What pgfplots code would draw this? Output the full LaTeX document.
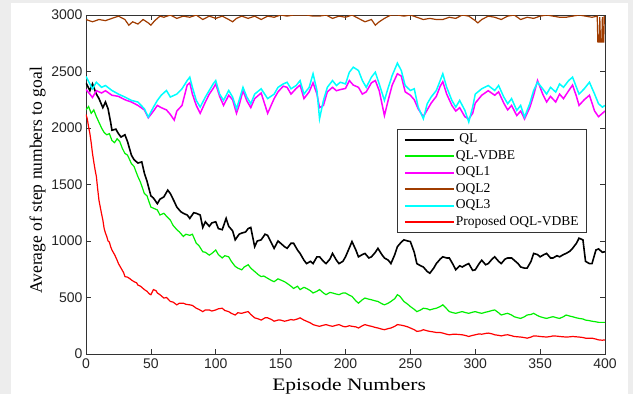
\documentclass[border=0pt]{standalone}
\usepackage{fontspec}
\setmainfont{Liberation Serif}
\setsansfont{Liberation Sans}
\usepackage{pgfplots}
\pgfplotsset{compat=1.18}
\definecolor{bgframe}{HTML}{EDEDED}
\definecolor{qlgreen}{HTML}{00F000}
\definecolor{oqlbrown}{HTML}{A03C00}
\definecolor{oqlcyan}{HTML}{00FFFF}
\definecolor{oqlmag}{HTML}{FF00FF}
\begin{document}
\begin{tikzpicture}
\fill[bgframe] (-86pt,-40pt) rectangle (547pt,354pt);
\fill[white] (-75pt,-40pt) rectangle (542pt,351pt);
\begin{axis}[
  at={(0,0)}, anchor=south west,
  width=519pt, height=339pt, scale only axis,
  xmin=0, xmax=400, ymin=0, ymax=3000,
  xtick={0,50,...,400}, ytick={0,500,...,3000},
  tick align=inside, major tick length=5pt,
  tick style={black!80, line width=0.6pt},
  axis line style={black!80, line width=0.8pt},
  /pgf/number format/assume math mode=true,
  /pgf/number format/1000 sep={},
  ticklabel style={font=\sffamily\fontsize{14}{14}\selectfont, text=black!85},
  xticklabel style={yshift=-1.5pt},
  xlabel={\scalebox{1.23}[1]{Episode Numbers}},
  xlabel style={font=\fontsize{17.5}{17.5}\selectfont, at={(axis description cs:0.507,0)}, anchor=base, yshift=-36pt},
  ylabel={Average of step numbers to goal},
  ylabel style={font=\fontsize{17.5}{17.5}\selectfont, at={(axis description cs:-0.0848,0.512)}, rotate=0, anchor=base},
  legend cell align=left,
  legend style={at={(rel axis cs:0.9653,0.6637)}, anchor=north east,
    draw=black!80, line width=0.8pt, inner xsep=7pt, inner ysep=2pt,
    font=\fontsize{13.5}{13.5}\selectfont, row sep=0pt,
    nodes={inner xsep=1pt, inner ysep=2.25pt, text height=9pt, text depth=3pt}},
]
% QL
\addplot[black, line width=1.6pt, forget plot] coordinates {
(0,2400)(3,2330)(5,2390)(8,2300)(10,2260)(13,2180)(15,2230)(17,2170)(19,2050)(20,1980)
(23,1990)(25,1950)(27,1920)(30,1940)(32,1880)(35,1760)(37,1720)(40,1690)(43,1700)(45,1600)
(47,1530)(50,1400)(52,1380)(55,1330)(57,1370)(60,1390)(63,1450)(65,1420)(68,1350)(70,1300)
(73,1260)(75,1245)(78,1230)(80,1200)(83,1250)(85,1245)(88,1230)(90,1120)(92,1170)(95,1130)
(97,1160)(100,1170)(102,1110)(105,1100)(108,1200)(110,1130)(113,1090)(115,1010)(118,1060)(120,1070)
(123,1080)(125,1110)(127,1120)(130,950)(132,1000)(135,1010)(138,1060)(140,1050)(143,980)(145,935)
(148,1000)(150,980)(153,950)(155,935)(158,980)(160,980)(163,920)(165,890)(168,830)(170,800)
(173,820)(175,800)(178,860)(180,860)(183,820)(185,800)(188,840)(190,890)(193,830)(195,800)
(198,820)(200,860)(203,940)(205,995)(208,920)(210,860)(213,880)(215,890)(218,850)(220,860)
(223,900)(225,935)(228,880)(230,850)(233,830)(235,800)(238,880)(240,950)(243,990)(245,1010)
(248,1000)(250,995)(253,900)(255,800)(258,780)(260,770)(263,730)(265,715)(268,760)(270,800)
(273,840)(275,860)(278,850)(280,850)(283,790)(285,745)(288,780)(290,770)(293,790)(295,800)
(298,740)(300,745)(303,800)(305,830)(308,790)(310,800)(313,840)(315,860)(318,820)(320,800)
(323,840)(325,850)(328,850)(330,830)(333,800)(335,770)(338,760)(340,760)(343,820)(345,890)
(348,880)(350,860)(353,880)(355,890)(358,850)(360,850)(363,870)(365,860)(368,880)(370,890)
(373,910)(375,935)(378,980)(380,1025)(383,1010)(385,820)(388,800)(390,800)(393,920)(395,930)
(398,900)(400,905)};
% QL-VDBE
\addplot[qlgreen, line width=1.2pt, forget plot] coordinates {
(0,2160)(2,2190)(4,2130)(6,2160)(8,2100)(10,2050)(12,2000)(14,1960)(16,1940)(18,1950)
(20,1890)(22,1870)(24,1905)(26,1880)(28,1820)(30,1775)(32,1760)(35,1685)(37,1660)(40,1570)
(42,1520)(45,1420)(47,1400)(50,1300)(52,1290)(55,1275)(57,1230)(60,1245)(62,1220)(65,1185)
(67,1140)(70,1100)(72,1080)(75,1040)(77,1060)(80,1050)(82,1060)(85,980)(87,960)(90,905)
(92,900)(95,875)(97,890)(100,920)(102,880)(105,850)(107,870)(110,860)(112,820)(115,775)
(117,760)(120,745)(122,770)(125,790)(127,760)(130,730)(133,700)(135,685)(137,690)(140,670)
(143,650)(145,640)(148,665)(150,655)(153,640)(155,625)(158,600)(160,580)(163,600)(165,570)
(168,590)(170,580)(173,560)(175,540)(178,555)(180,570)(183,540)(185,525)(188,545)(190,540)
(193,530)(195,525)(198,540)(200,540)(203,520)(205,510)(208,470)(210,450)(213,480)(215,495)
(218,485)(220,480)(223,470)(225,465)(228,445)(230,435)(233,450)(235,465)(238,490)(240,525)
(242,510)(245,465)(248,440)(250,420)(253,395)(255,375)(258,390)(260,405)(263,400)(265,390)
(268,400)(270,405)(273,420)(275,435)(278,400)(280,375)(283,365)(285,360)(288,370)(290,375)
(293,365)(295,360)(298,370)(300,375)(303,365)(305,360)(308,370)(310,375)(313,385)(315,390)
(318,365)(320,345)(323,355)(325,360)(328,345)(330,330)(333,320)(335,315)(338,330)(340,345)
(343,350)(345,360)(348,340)(350,330)(353,320)(355,315)(358,325)(360,330)(363,320)(365,315)
(368,330)(370,345)(373,335)(375,330)(378,320)(380,315)(383,310)(385,300)(388,295)(390,290)
(393,285)(395,280)(398,280)(400,280)};
% OQL1
\addplot[oqlmag, line width=1.5pt, forget plot] coordinates {
(0,2340)(3,2300)(5,2270)(8,2330)(12,2310)(15,2330)(20,2290)(25,2280)(30,2250)(35,2230)
(40,2200)(45,2160)(48,2090)(52,2150)(55,2200)(58,2180)(62,2160)(65,2120)(68,2070)(70,2150)
(74,2200)(78,2380)(80,2400)(82,2300)(85,2200)(88,2130)(92,2230)(95,2300)(98,2350)(100,2390)
(103,2280)(106,2200)(110,2290)(113,2250)(116,2130)(118,2200)(121,2330)(124,2240)(127,2180)(130,2260)
(135,2310)(140,2130)(145,2260)(148,2320)(152,2370)(155,2360)(158,2300)(162,2350)(165,2380)(168,2260)
(172,2320)(175,2400)(178,2300)(180,2180)(183,2200)(186,2320)(190,2360)(193,2330)(196,2340)(200,2350)
(203,2420)(206,2380)(210,2360)(213,2300)(216,2320)(220,2400)(223,2420)(226,2330)(230,2110)(233,2250)
(236,2380)(240,2480)(243,2460)(246,2320)(250,2290)(253,2250)(256,2170)(260,2100)(263,2160)(266,2220)
(270,2280)(273,2370)(275,2410)(278,2300)(282,2200)(285,2150)(288,2180)(292,2100)(295,2080)(298,2130)
(300,2220)(305,2290)(310,2330)(315,2290)(318,2320)(322,2220)(325,2160)(328,2200)(332,2110)(335,2150)
(338,2080)(342,2180)(345,2290)(348,2420)(352,2300)(355,2230)(358,2280)(362,2230)(365,2300)(368,2260)
(372,2330)(375,2380)(378,2280)(380,2200)(384,2250)(388,2290)(392,2150)(395,2100)(398,2130)(400,2150)};
% OQL2
\addplot[oqlbrown, line width=1.2pt, forget plot] coordinates {
(0,2960)(5,2940)(10,2960)(15,2950)(20,2970)(25,2990)(30,2960)(33,2910)(36,2940)(40,2920)
(44,2960)(48,2930)(50,2910)(53,2950)(57,2990)(60,2980)(65,3000)(70,2970)(75,2990)(80,2980)
(85,3000)(90,2960)(95,2990)(100,2970)(105,2990)(110,2960)(113,2940)(116,2970)(120,2990)(125,2970)
(130,2990)(135,2960)(140,2990)(145,2980)(150,3000)(155,2990)(160,3000)(165,3000)(170,3000)(175,2990)
(180,2990)(185,3000)(190,2970)(195,2990)(200,2980)(205,3000)(210,2970)(215,2940)(220,2960)(223,2910)
(226,2940)(230,2970)(235,3000)(240,3000)(245,2990)(250,3000)(255,2980)(260,2960)(265,2970)(270,2960)
(275,2960)(280,2980)(285,2970)(290,3000)(295,2990)(300,2950)(302,2930)(305,2960)(310,2990)(315,2980)
(320,2960)(325,2990)(330,3000)(335,2960)(340,2980)(345,2970)(350,2990)(355,3000)(360,2990)(365,2980)
(370,2980)(375,2990)(380,3000)(385,2990)(390,2980)(394,2990)(394.5,2760)(395.5,2760)(396,2980)(396.5,2760)
(397.5,2760)(398,2980)(398.5,2760)(399,2760)(399.5,2990)(400,2950)};
% OQL3
\addplot[oqlcyan, line width=1.5pt, forget plot] coordinates {
(0,2456)(3,2390)(5,2347)(8,2405)(12,2360)(15,2376)(20,2332)(25,2300)(30,2274)(35,2244)
(40,2230)(45,2170)(48,2097)(52,2185)(55,2244)(58,2290)(62,2332)(65,2274)(70,2300)(74,2347)
(78,2420)(80,2450)(82,2360)(85,2244)(88,2185)(92,2274)(95,2332)(98,2390)(100,2420)(103,2300)
(106,2244)(110,2332)(113,2274)(116,2170)(118,2244)(121,2360)(124,2274)(127,2215)(130,2300)(135,2347)
(140,2260)(145,2300)(148,2360)(152,2390)(155,2405)(158,2347)(162,2376)(165,2420)(168,2300)(172,2360)
(175,2480)(178,2332)(180,2082)(183,2244)(186,2360)(190,2420)(193,2376)(196,2405)(200,2390)(203,2494)
(206,2538)(210,2509)(213,2420)(216,2360)(220,2450)(223,2494)(226,2390)(230,2244)(233,2360)(236,2465)
(240,2574)(243,2509)(246,2376)(250,2332)(253,2347)(256,2185)(260,2082)(263,2215)(266,2274)(270,2332)
(273,2420)(275,2480)(278,2360)(282,2244)(285,2185)(288,2244)(292,2156)(295,2053)(298,2185)(300,2300)
(305,2347)(310,2376)(315,2332)(318,2376)(322,2274)(325,2215)(328,2260)(332,2156)(335,2200)(338,2097)
(342,2215)(345,2332)(348,2405)(352,2347)(355,2300)(358,2360)(362,2318)(365,2390)(368,2360)(372,2420)
(375,2450)(378,2360)(380,2300)(384,2347)(388,2405)(392,2300)(395,2215)(398,2185)(400,2200)};
% Proposed OQL-VDBE
\addplot[red, line width=1.2pt, forget plot] coordinates {
(0,2120)(1,2080)(2,2010)(3,1950)(4,1870)(5,1775)(6,1700)(7,1630)(8,1570)(9,1460)
(10,1360)(11,1300)(12,1240)(13,1185)(14,1110)(15,1070)(16,1040)(17,1000)(18,990)(19,950)
(20,920)(22,880)(24,830)(25,800)(27,760)(29,720)(30,685)(32,680)(34,665)(35,655)
(37,640)(39,630)(40,610)(42,600)(44,580)(45,570)(47,555)(49,530)(50,525)(52,570)
(54,560)(55,540)(57,525)(60,495)(62,500)(65,465)(67,460)(70,435)(72,450)(75,450)
(77,440)(80,435)(82,430)(85,405)(87,395)(90,375)(92,390)(95,390)(97,380)(100,390)
(102,400)(105,405)(107,385)(110,375)(112,360)(115,345)(117,365)(120,360)(123,370)(125,375)
(127,350)(130,320)(133,310)(135,300)(138,320)(140,320)(143,305)(145,290)(148,300)(150,300)
(153,290)(155,295)(158,305)(160,300)(163,310)(165,320)(168,300)(170,290)(173,275)(175,260)
(178,250)(180,245)(183,255)(185,260)(188,250)(190,245)(193,255)(195,260)(198,245)(200,240)
(203,250)(205,245)(208,240)(210,230)(213,250)(215,260)(218,250)(220,245)(223,235)(225,230)
(228,220)(230,215)(233,225)(235,230)(238,245)(240,260)(243,255)(245,250)(248,240)(250,230)
(253,215)(255,200)(258,205)(260,215)(263,205)(265,200)(268,195)(270,190)(273,190)(275,185)
(278,175)(280,170)(283,175)(285,175)(288,172)(290,170)(293,162)(295,155)(298,165)(300,170)
(303,178)(305,175)(308,182)(310,185)(313,178)(315,170)(318,165)(320,160)(323,168)(325,170)
(328,162)(330,155)(333,152)(335,150)(338,145)(340,140)(343,150)(345,160)(348,158)(350,155)
(353,152)(355,150)(358,155)(360,160)(363,158)(365,155)(368,152)(370,150)(373,152)(375,155)
(378,152)(380,150)(383,146)(385,140)(388,140)(390,140)(393,132)(395,125)(398,122)(400,125)};
\addlegendimage{legend image code/.code={\draw[black, line width=2pt] (0pt,0pt) -- (49pt,0pt);}}
\addlegendentry{~QL}
\addlegendimage{legend image code/.code={\draw[qlgreen, line width=2pt] (0pt,0pt) -- (49pt,0pt);}}
\addlegendentry{QL-VDBE}
\addlegendimage{legend image code/.code={\draw[oqlmag, line width=2pt] (0pt,0pt) -- (49pt,0pt);}}
\addlegendentry{OQL1}
\addlegendimage{legend image code/.code={\draw[oqlbrown, line width=2pt] (0pt,0pt) -- (49pt,0pt);}}
\addlegendentry{OQL2}
\addlegendimage{legend image code/.code={\draw[oqlcyan, line width=2pt] (0pt,0pt) -- (49pt,0pt);}}
\addlegendentry{OQL3}
\addlegendimage{legend image code/.code={\draw[red, line width=2pt] (0pt,0pt) -- (49pt,0pt);}}
\addlegendentry{Proposed OQL-VDBE}
\end{axis}
\pgfresetboundingbox
\useasboundingbox (-86pt,-40pt) rectangle (547pt,354pt);
\end{tikzpicture}
\end{document}
